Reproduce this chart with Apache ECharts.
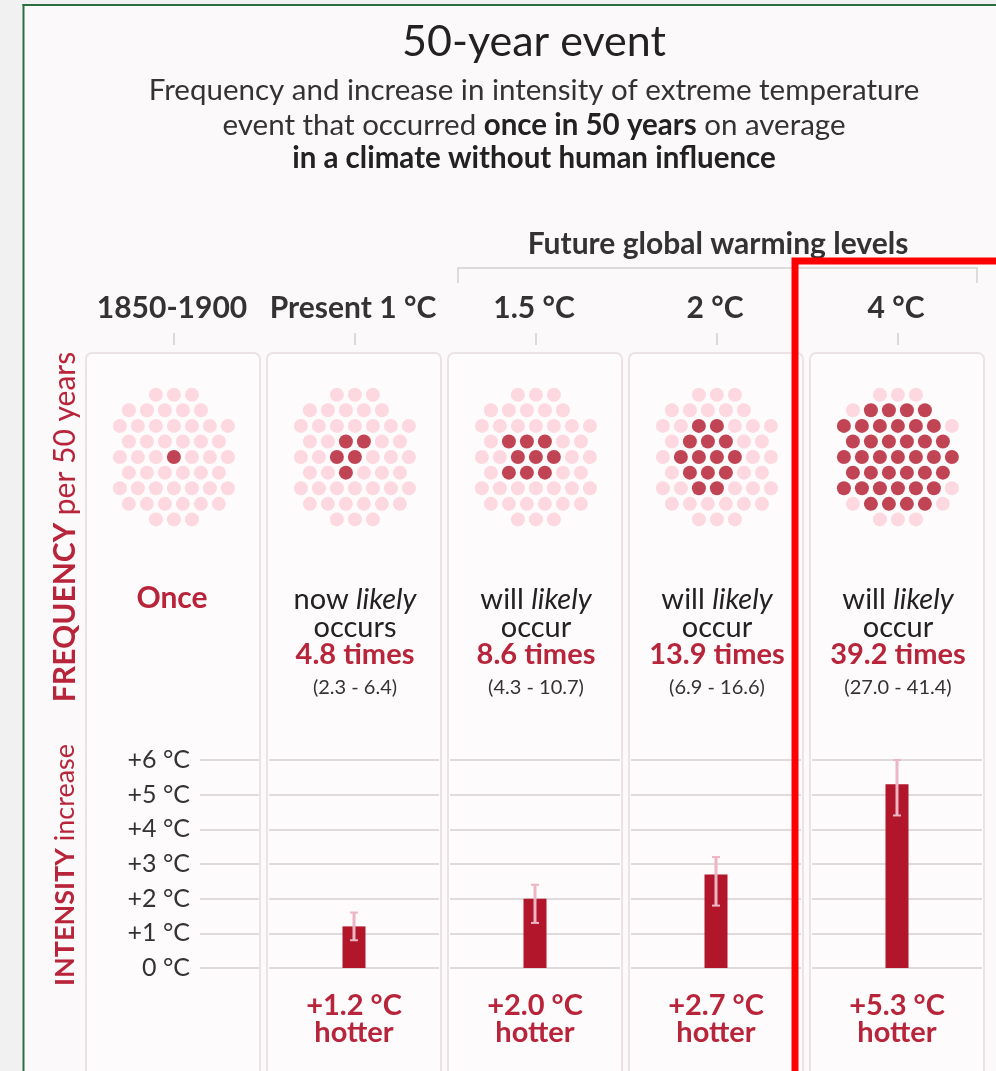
<!DOCTYPE html>
<html>
<head>
<meta charset="utf-8">
<script src="https://cdn.jsdelivr.net/npm/echarts@6/dist/echarts.min.js"></script>
<style>
  html, body { margin: 0; padding: 0; background: #f2f2f2; }
  #c { width: 996px; height: 1071px; }
</style>
</head>
<body>
<div id="c"></div>
<script>
// ---- data ----
const periods = ['1850-1900', 'Present 1 °C', '1.5 °C', '2 °C', '4 °C'];
const eventsPerPeriod = 50;
const freqTimes = [1, 4.8, 8.6, 13.9, 39.2];
const freqLow = [null, 2.3, 4.3, 6.9, 27.0];
const freqHigh = [null, 6.4, 10.7, 16.6, 41.4];
const freqLead = ['', 'now', 'will', 'will', 'will'];
const freqVerb = ['', 'occurs', 'occur', 'occur', 'occur'];
const intensity = [null, 1.2, 2.0, 2.7, 5.3];
const intensityLow = [null, 0.8, 1.3, 1.8, 4.4];
const intensityHigh = [null, 1.6, 2.4, 3.2, 6.0];
const intensityTicks = ['0 °C', '+1 °C', '+2 °C', '+3 °C', '+4 °C', '+5 °C', '+6 °C'];

// ---- styling ----
const FONT = 'Lato, "Noto Sans", sans-serif';
const RED_TEXT = '#b8243a';
const BAR = '#b1162b';
const PINK = '#fcd0da';
const WHISKER = '#ecb6c5';
const INK = '#333333';
const GRID_LINE = '#d5d0d2';
const colW = 174;
const colLeft = i => 86 + 181 * i;
const colCx = i => colLeft(i) + colW / 2 + 1;

// Hexagonal packing of the event dots inside an upright ellipse
function hexCluster(n, d) {
  const pts = [];
  for (let r = -7; r <= 7; r++) {
    for (let c = -7; c <= 7; c++) {
      pts.push([(c + (Math.abs(r) % 2) * 0.5) * d, r * d * Math.sqrt(3) / 2]);
    }
  }
  const m = p => (p[0] * p[0]) / (62 * 62) + (p[1] * p[1]) / (68 * 68);
  pts.sort((p, q) => m(p) - m(q));
  const sel = pts.slice(0, n);
  const mx = sel.reduce((s, p) => s + p[0], 0) / n;
  const my = sel.reduce((s, p) => s + p[1], 0) / n;
  return sel.map(p => [p[0] - mx, p[1] - my]);
}
const cluster = hexCluster(eventsPerPeriod, 18);
// order dots from the core outwards to decide which ones are filled
const coreOrder = cluster
  .map((p, j) => ({ j, d: Math.hypot(p[0] + 5, p[1] - 2) }))
  .sort((a, b) => a.d - b.d)
  .map(o => o.j);

const grids = [], xAxes = [], yAxes = [], series = [];

// dot panels (grid 0..4)
periods.forEach((p, i) => {
  grids.push({ left: colLeft(i), top: 378, width: colW, height: 160 });
  xAxes.push({ type: 'value', gridIndex: i, min: -87, max: 87, show: false });
  yAxes.push({ type: 'value', gridIndex: i, min: -80, max: 80, show: false });
  const nDark = Math.round(freqTimes[i]);
  const dark = new Set(coreOrder.slice(0, nDark));
  series.push({
    type: 'scatter', xAxisIndex: i, yAxisIndex: i, symbolSize: 14, silent: true,
    data: cluster.map((pt, j) => ({ value: pt, itemStyle: { color: dark.has(j) ? BAR : PINK } }))
  });
});

// intensity bars (grid 5..9)
const hotterLabel = v => v == null ? '' : '+' + v.toFixed(1) + ' °C\nhotter';
periods.forEach((p, i) => {
  const g = 5 + i;
  grids.push(i === 0
    ? { left: 200, top: 760, width: 59, height: 208 }
    : { left: colLeft(i) + 2, top: 760, width: colW - 4, height: 208 });
  xAxes.push({
    type: 'category', gridIndex: g, data: [hotterLabel(intensity[i])],
    axisLine: { show: false }, axisTick: { show: false },
    axisLabel: {
      color: RED_TEXT, fontFamily: FONT, fontSize: 29, fontWeight: 'bold',
      lineHeight: 27, margin: 24, interval: 0
    }
  });
  yAxes.push({
    type: 'value', gridIndex: g, min: 0, max: 6, interval: 1,
    axisLine: { show: false }, axisTick: { show: false },
    splitLine: { lineStyle: { color: GRID_LINE, width: 1.5 } },
    axisLabel: {
      show: i === 0, color: INK, fontFamily: FONT, fontSize: 25, margin: 10,
      formatter: v => intensityTicks[v]
    }
  });
  if (intensity[i] != null) {
    series.push({
      type: 'bar', xAxisIndex: g, yAxisIndex: g, barWidth: 23, silent: true,
      data: [intensity[i]], itemStyle: { color: BAR }
    });
    series.push({
      type: 'custom', xAxisIndex: g, yAxisIndex: g, silent: true, z: 5,
      data: [[0, intensityLow[i], intensityHigh[i]]],
      encode: { x: 0, y: [1, 2] },
      renderItem: (params, api) => {
        const lo = api.coord([api.value(0), api.value(1)]);
        const hi = api.coord([api.value(0), api.value(2)]);
        const st = { stroke: WHISKER, lineWidth: 3 };
        return {
          type: 'group', children: [
            { type: 'line', shape: { x1: lo[0], y1: lo[1], x2: hi[0], y2: hi[1] }, style: st },
            { type: 'line', shape: { x1: lo[0] - 4, y1: lo[1], x2: lo[0] + 4, y2: lo[1] }, style: { stroke: WHISKER, lineWidth: 2 } },
            { type: 'line', shape: { x1: hi[0] - 4, y1: hi[1], x2: hi[0] + 4, y2: hi[1] }, style: { stroke: WHISKER, lineWidth: 2 } }
          ]
        };
      }
    });
  }
});

// ---- static text and frames ----
const els = [];
// outer backdrop and framing lines
els.push({ type: 'rect', z: -20, shape: { x: 0, y: 0, width: 23, height: 1071 }, style: { fill: '#f1f1f1' } });
els.push({ type: 'rect', z: -20, shape: { x: 0, y: 0, width: 996, height: 4 }, style: { fill: '#f1f1f1' } });
els.push({ type: 'line', z: -19, shape: { x1: 23.5, y1: 4, x2: 23.5, y2: 1071 }, style: { stroke: '#2d6e3e', lineWidth: 2 } });
els.push({ type: 'line', z: -19, shape: { x1: 22.5, y1: 5, x2: 996, y2: 5 }, style: { stroke: '#2d6e3e', lineWidth: 2 } });

// column frames
periods.forEach((p, i) => {
  els.push({
    type: 'rect', z: -10,
    shape: { x: colLeft(i), y: 353, width: colW, height: 760, r: 6 },
    style: { fill: '#fdfbfb', stroke: '#ebe2e4', lineWidth: 2 }
  });
  els.push({
    type: 'text', x: colCx(i) - 2, y: 308,
    style: { text: p, fontFamily: FONT, fontSize: 30, fontWeight: 'bold', fill: INK, align: 'center', verticalAlign: 'middle' }
  });
  els.push({
    type: 'line', shape: { x1: colCx(i), y1: 333, x2: colCx(i), y2: 345 },
    style: { stroke: '#cfcfcf', lineWidth: 1.5 }
  });
  // frequency statement
  if (i === 0) {
    els.push({
      type: 'text', x: colCx(i) - 2, y: 598,
      style: { text: 'Once', fontFamily: FONT, fontSize: 30, fontWeight: 'bold', fill: RED_TEXT, align: 'center', verticalAlign: 'middle' }
    });
  } else {
    els.push({
      type: 'text', x: colCx(i), y: 600,
      style: {
        text: '{n|' + freqLead[i] + ' }{i|likely}', align: 'center', verticalAlign: 'middle',
        rich: {
          n: { fontFamily: FONT, fontSize: 29, fill: '#222' },
          i: { fontFamily: FONT, fontSize: 29, fontStyle: 'italic', fill: '#222' }
        }
      }
    });
    els.push({
      type: 'text', x: colCx(i), y: 628,
      style: { text: freqVerb[i], fontFamily: FONT, fontSize: 29, fill: '#222', align: 'center', verticalAlign: 'middle' }
    });
    els.push({
      type: 'text', x: colCx(i), y: 655,
      style: { text: freqTimes[i].toFixed(1) + ' times', fontFamily: FONT, fontSize: 29, fontWeight: 'bold', fill: RED_TEXT, align: 'center', verticalAlign: 'middle' }
    });
    els.push({
      type: 'text', x: colCx(i), y: 688,
      style: { text: '(' + freqLow[i].toFixed(1) + ' - ' + freqHigh[i].toFixed(1) + ')', fontFamily: FONT, fontSize: 20, fill: '#333', align: 'center', verticalAlign: 'middle' }
    });
  }
});

// future bracket
els.push({
  type: 'text', x: 718, y: 244,
  style: { text: 'Future global warming levels', fontFamily: FONT, fontSize: 30, fontWeight: 'bold', fill: INK, align: 'center', verticalAlign: 'middle' }
});
els.push({
  type: 'polyline', shape: { points: [[458, 283], [458, 268], [977, 268], [977, 283]] },
  style: { stroke: '#d2d2d2', lineWidth: 1.5, fill: null }
});

// title block
els.push({
  type: 'text', x: 534, y: 42,
  style: { text: '50-year event', fontFamily: FONT, fontSize: 43, fill: '#222', align: 'center', verticalAlign: 'middle' }
});
els.push({
  type: 'text', x: 534, y: 90,
  style: { text: 'Frequency and increase in intensity of extreme temperature', fontFamily: FONT, fontSize: 29.5, fill: INK, align: 'center', verticalAlign: 'middle' }
});
els.push({
  type: 'text', x: 534, y: 125,
  style: {
    text: '{r|event that occurred }{b|once in 50 years}{r| on average}', align: 'center', verticalAlign: 'middle',
    rich: {
      r: { fontFamily: FONT, fontSize: 29.5, fill: INK },
      b: { fontFamily: FONT, fontSize: 29.5, fontWeight: 'bold', fill: '#222' }
    }
  }
});
els.push({
  type: 'text', x: 534, y: 158,
  style: { text: 'in a climate without human influence', fontFamily: FONT, fontSize: 29.5, fontWeight: 'bold', fill: '#222', align: 'center', verticalAlign: 'middle' }
});

// side headings
els.push({
  type: 'text', x: 65, y: 527, rotation: Math.PI / 2,
  style: {
    text: '{b|FREQUENCY}{r| per 50 years}', align: 'center', verticalAlign: 'middle',
    rich: {
      b: { fontFamily: FONT, fontSize: 30, fontWeight: 'bold', fill: RED_TEXT },
      r: { fontFamily: FONT, fontSize: 30, fill: RED_TEXT }
    }
  }
});
els.push({
  type: 'text', x: 65, y: 865, rotation: Math.PI / 2,
  style: {
    text: '{b|INTENSITY}{r| increase}', align: 'center', verticalAlign: 'middle',
    rich: {
      b: { fontFamily: FONT, fontSize: 27, fontWeight: 'bold', fill: RED_TEXT },
      r: { fontFamily: FONT, fontSize: 27, fill: RED_TEXT }
    }
  }
});

// highlight box around the 4 °C column
els.push({
  type: 'rect', z: 50, shape: { x: 795, y: 261, width: 320, height: 900 },
  style: { fill: null, stroke: '#ff0000', lineWidth: 7 }
});

const chart = echarts.init(document.getElementById('c'));
chart.setOption({
  backgroundColor: '#fcf9fa',
  animation: false,
  grid: grids,
  xAxis: xAxes,
  yAxis: yAxes,
  series: series,
  graphic: { elements: els }
});
</script>
</body>
</html>
